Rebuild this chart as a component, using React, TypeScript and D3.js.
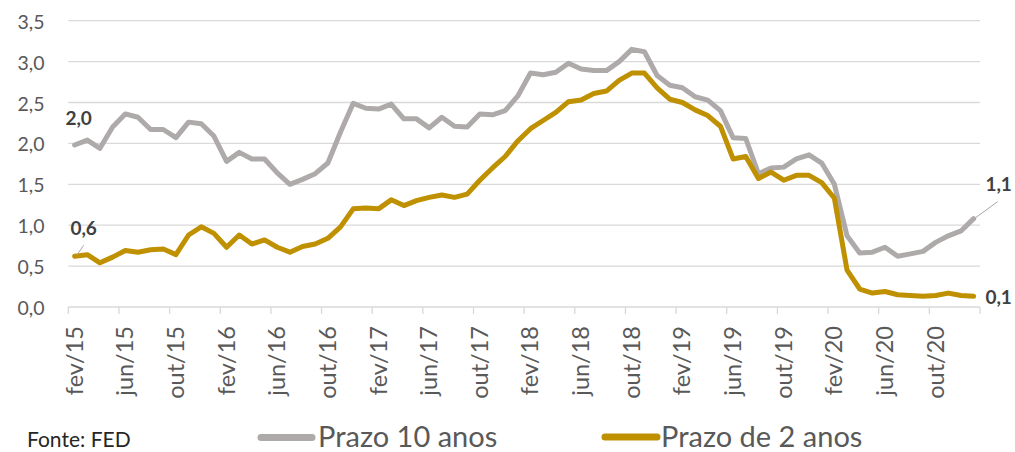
import React from "react";
import { scaleLinear, line } from "d3";

// Monthly averages, fev/15 .. jan/21
const tenYear = [
  1.98, 2.04, 1.94, 2.2, 2.36, 2.32, 2.17, 2.17, 2.07, 2.26, 2.24,
  2.09, 1.78, 1.89, 1.81, 1.81, 1.64, 1.5, 1.56, 1.63, 1.76, 2.14, 2.49,
  2.43, 2.42, 2.48, 2.3, 2.3, 2.19, 2.32, 2.21, 2.2, 2.36, 2.35, 2.4,
  2.58, 2.86, 2.84, 2.87, 2.98, 2.91, 2.89, 2.89, 3.0, 3.15, 3.12, 2.83,
  2.71, 2.68, 2.57, 2.53, 2.4, 2.07, 2.06, 1.63, 1.7, 1.71, 1.81, 1.86,
  1.76, 1.5, 0.87, 0.66, 0.67, 0.73, 0.62, 0.65, 0.68, 0.79, 0.87, 0.93,
  1.08,
];

const twoYear = [
  0.62, 0.64, 0.54, 0.61, 0.69, 0.67, 0.7, 0.71, 0.64, 0.88, 0.98,
  0.9, 0.73, 0.88, 0.77, 0.82, 0.73, 0.67, 0.74, 0.77, 0.84, 0.98, 1.2,
  1.21, 1.2, 1.31, 1.24, 1.3, 1.34, 1.37, 1.34, 1.38, 1.55, 1.7, 1.84,
  2.03, 2.18, 2.28, 2.38, 2.51, 2.53, 2.61, 2.64, 2.77, 2.86, 2.86, 2.68,
  2.54, 2.5, 2.41, 2.34, 2.21, 1.81, 1.84, 1.57, 1.65, 1.55, 1.61, 1.61,
  1.52, 1.33, 0.45, 0.22, 0.17, 0.19, 0.15, 0.14, 0.13, 0.14, 0.17, 0.14,
  0.13,
];

const xTickLabels = [
  "fev/15", "jun/15", "out/15", "fev/16", "jun/16", "out/16",
  "fev/17", "jun/17", "out/17", "fev/18", "jun/18", "out/18",
  "fev/19", "jun/19", "out/19", "fev/20", "jun/20", "out/20",
];

const yTicks = [0, 0.5, 1, 1.5, 2, 2.5, 3, 3.5];

const WIDTH = 1015;
const HEIGHT = 452;
const FONT = "Lato, 'Open Sans', sans-serif";
const GRAY = "#AEAAAA";
const GOLD = "#BF9000";
const GRID = "#D9D9D9";
const TEXT = "#595959";
const LABEL = "#404040";

export default function App() {
  const n = tenYear.length;
  const x = scaleLinear().domain([0, n]).range([68.3, 980]);
  const y = scaleLinear().domain([0, 3.5]).range([307, 20.7]);
  const px = (i: number) => x(i + 0.5);

  const path = line<number>()
    .x((_, i) => px(i))
    .y((d) => y(d));

  const tickIdx = Array.from({ length: n / 4 + 1 }, (_, k) => k * 4);
  const fmt = (v: number) => v.toFixed(1).replace(".", ",");

  const first = 0;
  const last = n - 1;

  return (
    <div style={{ position: "absolute", left: 0, top: 0 }}>
      <svg width={WIDTH} height={HEIGHT} style={{ display: "block", background: "#fff" }}>
        {/* gridlines + y labels */}
        {yTicks.map((t) => (
          <g key={t}>
            <line x1={x(0)} x2={x(n)} y1={y(t)} y2={y(t)} stroke={GRID} strokeWidth={1.3} />
            <text
              x={44.5}
              y={y(t) + 1}
              dy="0.36em"
              textAnchor="end"
              fontFamily={FONT}
              fontSize={19.5}
              fill={TEXT}
            >
              {fmt(t)}
            </text>
          </g>
        ))}

        {/* x tick marks */}
        {tickIdx.map((i) => (
          <line key={i} x1={x(i)} x2={x(i)} y1={y(0)} y2={y(0) + 7} stroke={GRID} strokeWidth={1.3} />
        ))}

        {/* x labels */}
        {xTickLabels.map((lab, k) => {
          const cx = px(k * 4);
          return (
            <text
              key={lab}
              transform={`translate(${cx + 8},${326}) rotate(-90)`}
              textAnchor="end"
              fontFamily={FONT}
              fontSize={23.5}
              fill={TEXT}
            >
              {lab}
            </text>
          );
        })}

        {/* series */}
        <path d={path(tenYear) || ""} fill="none" stroke={GRAY} strokeWidth={5} strokeLinejoin="round" strokeLinecap="round" />
        <path d={path(twoYear) || ""} fill="none" stroke={GOLD} strokeWidth={5} strokeLinejoin="round" strokeLinecap="round" />

        {/* data labels */}
        <text x={px(first) + 4} y={y(tenYear[first]) - 27} dy="0.36em" textAnchor="middle" fontFamily={FONT} fontWeight={700} fontSize={19} fill={LABEL}>
          {fmt(tenYear[first])}
        </text>
        <line x1={px(first) + 2} y1={y(twoYear[first]) - 1} x2={px(first) + 9} y2={y(twoYear[first]) - 11} stroke="#A6A6A6" strokeWidth={1} />
        <text x={px(first) + 9} y={y(twoYear[first]) - 28} dy="0.36em" textAnchor="middle" fontFamily={FONT} fontWeight={700} fontSize={19} fill={LABEL}>
          {fmt(twoYear[first])}
        </text>
        <line x1={px(last) + 2} y1={y(tenYear[last]) - 1} x2={px(last) + 24} y2={y(tenYear[last]) - 17} stroke="#A6A6A6" strokeWidth={1} />
        <text x={px(last) + 25} y={y(tenYear[last]) - 34} dy="0.36em" textAnchor="middle" fontFamily={FONT} fontWeight={700} fontSize={19} fill={LABEL}>
          {fmt(tenYear[last])}
        </text>
        <text x={px(last) + 25} y={y(twoYear[last]) + 1} dy="0.36em" textAnchor="middle" fontFamily={FONT} fontWeight={700} fontSize={19} fill={LABEL}>
          {fmt(twoYear[last])}
        </text>

        {/* footer / legend */}
        <text x={27} y={447} fontFamily={FONT} fontSize={21} fill="#262626">
          Fonte: FED
        </text>
        <line x1={261} x2={312} y1={437.5} y2={437.5} stroke={GRAY} strokeWidth={7} strokeLinecap="round" />
        <text x={318} y={447} fontFamily={FONT} fontSize={29} fill={TEXT}>
          Prazo 10 anos
        </text>
        <line x1={605} x2={657} y1={437} y2={437} stroke={GOLD} strokeWidth={7} strokeLinecap="round" />
        <text x={661} y={447} fontFamily={FONT} fontSize={29} fill={TEXT}>
          Prazo de 2 anos
        </text>
      </svg>
    </div>
  );
}
